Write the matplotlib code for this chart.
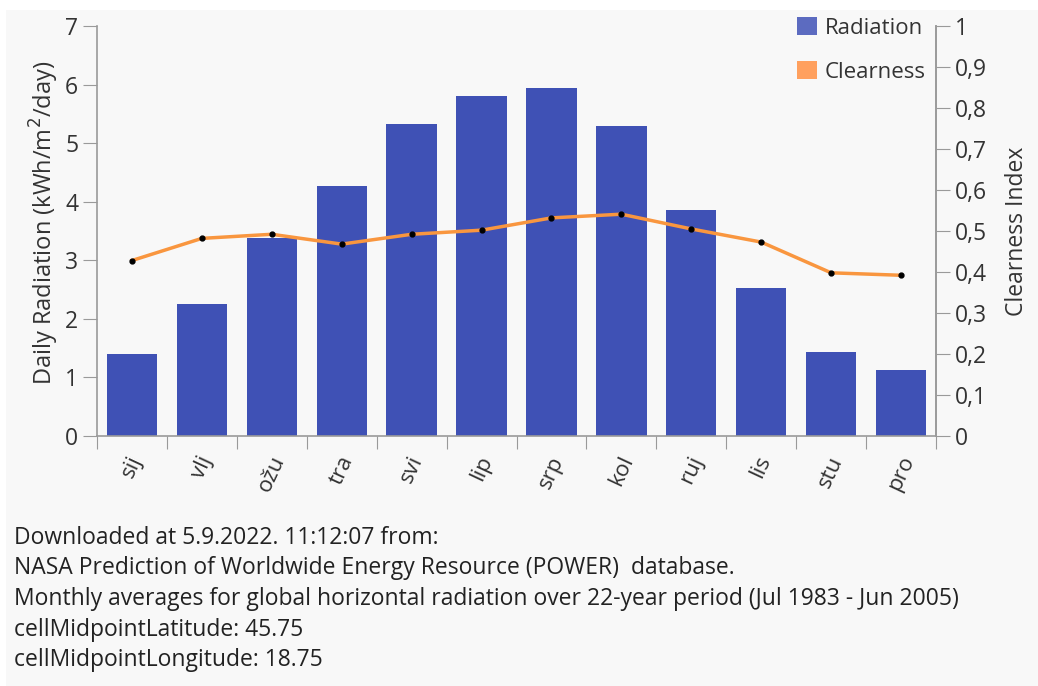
import matplotlib.pyplot as plt
import matplotlib as mpl
import numpy as np
from matplotlib.patches import Patch, Rectangle

mpl.rcParams['font.family'] = ['Open Sans', 'DejaVu Sans']
mpl.rcParams['font.size'] = 16

months = ["sij", "vlj", "ožu", "tra", "svi", "lip", "srp", "kol", "ruj", "lis", "stu", "pro"]
radiation = [1.40, 2.25, 3.38, 4.27, 5.33, 5.81, 5.95, 5.30, 3.86, 2.53, 1.44, 1.13]
clearness = [0.428, 0.482, 0.492, 0.468, 0.492, 0.502, 0.532, 0.541, 0.505, 0.473, 0.398, 0.392]
left_ticks = [0, 1, 2, 3, 4, 5, 6, 7]
right_ticks = [0, 0.1, 0.2, 0.3, 0.4, 0.5, 0.6, 0.7, 0.8, 0.9, 1]
footer = [
    "Downloaded at 5.9.2022. 11:12:07 from:",
    "NASA Prediction of Worldwide Energy Resource (POWER)  database.",
    "Monthly averages for global horizontal radiation over 22-year period (Jul 1983 - Jun 2005)",
    "cellMidpointLatitude: 45.75",
    "cellMidpointLongitude: 18.75",
]

bg = "#f8f8f8"
bar_color = "#3f51b5"
line_color = "#f9963f"
axis_color = "#9a9a9a"
text_color = "#333333"

fig = plt.figure(figsize=(10.38, 6.86), dpi=100)
fig.patch.set_facecolor("white")
fig.patches.append(Rectangle((6 / 1038, 0), 1, 1 - 10 / 686, transform=fig.transFigure,
                             facecolor=bg, edgecolor="none", zorder=-10))

ax = fig.add_axes([97 / 1038, 1 - 436 / 686, (936 - 97) / 1038, 410 / 686])
ax.set_facecolor(bg)
x = np.arange(len(months))
ax.bar(x, radiation, width=0.72, color=bar_color, zorder=2)
ax.set_xlim(-0.5, len(months) - 0.5)
ax.set_ylim(0, 7)
ax.set_yticks(left_ticks)
ax.set_xticks(np.arange(len(months) + 1) - 0.5)
ax.set_xticklabels([])
ax.set_xticks(x, minor=True)
ax.set_xticklabels(months, minor=True, rotation=65, ha="center", va="top",
                   color=text_color, fontsize=16)
ax.tick_params(axis="x", which="minor", length=0, pad=12)
ax.tick_params(axis="x", which="major", length=9, color=axis_color)
ax.tick_params(axis="y", length=10, color=axis_color, labelcolor=text_color, labelsize=16.5)
ax.set_ylabel("Daily Radiation (kWh/m$^2$/day)", color=text_color, fontsize=17)
ax.yaxis.set_label_coords(-0.043, 0.52)
ax.spines["top"].set_visible(False)
for s in ["left", "bottom", "right"]:
    ax.spines[s].set_color(axis_color)
    ax.spines[s].set_linewidth(1.2)

ax2 = ax.twinx()
ax2.plot(x, clearness, color=line_color, linewidth=2.5, zorder=3)
ax2.plot(x, clearness, linestyle="none", marker="o", markersize=3.5, color="black", zorder=4)
ax2.set_ylim(0, 1)
ax2.set_yticks(right_ticks)
ax2.set_yticklabels([f"{v:g}".replace(".", ",") for v in right_ticks])
ax2.tick_params(axis="y", length=10, color=axis_color, labelcolor=text_color, labelsize=16.5)
ax2.set_ylabel("Clearness Index", color=text_color, fontsize=16.5)
ax2.yaxis.set_label_coords(1.082, 0.5)
ax2.spines["top"].set_visible(False)
ax2.spines["right"].set_color(axis_color)
ax2.spines["right"].set_linewidth(1.2)
ax2.spines["left"].set_visible(False)
ax2.spines["bottom"].set_visible(False)

handles = [Patch(facecolor="#5c6bc0", label="Radiation"),
           Patch(facecolor="#ffa05e", label="Clearness")]
ax2.legend(handles=handles, loc="upper right", bbox_to_anchor=(1.004, 1.055), frameon=False,
           handlelength=0.9, handleheight=0.9, handletextpad=0.35, labelspacing=1.0,
           fontsize=16, labelcolor=text_color, borderaxespad=0.2)

for i, line in enumerate(footer):
    fig.text(14 / 1038, 1 - (538 + 30.5 * i) / 686, line, fontsize=16.5, color="#222222",
             ha="left", va="center")

fig.savefig("out.png", dpi=100, facecolor=fig.get_facecolor())
